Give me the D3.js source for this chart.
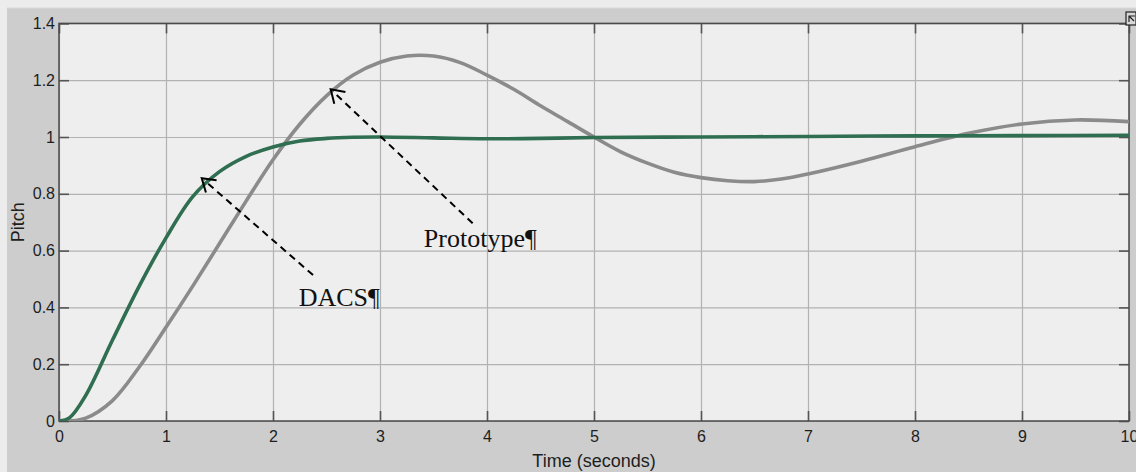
<!DOCTYPE html>
<html>
<head>
<meta charset="utf-8">
<script src="https://cdn.jsdelivr.net/npm/d3@7"></script>
<style>
  html, body { margin: 0; padding: 0; background: #cdcdcd; }
  svg { display: block; }
</style>
</head>
<body>
<div id="chart"></div>
<script>
// Pitch step response: prototype vs DACS

const timeProto = [0, 0.1, 0.25, 0.5, 0.75, 1, 1.25, 1.5, 1.75, 2, 2.25, 2.5, 2.75, 3, 3.25, 3.5, 3.75, 4, 4.25, 4.5, 4.75, 5, 5.25, 5.5, 5.75, 6, 6.25, 6.5, 6.75, 7, 7.5, 8, 8.5, 9, 9.5, 10];
const pitchProto = [0, 0, 0.01, 0.072, 0.19, 0.33, 0.475, 0.625, 0.775, 0.92, 1.045, 1.145, 1.218, 1.263, 1.285, 1.285, 1.262, 1.218, 1.168, 1.11, 1.055, 1.0, 0.948, 0.908, 0.876, 0.857, 0.846, 0.843, 0.852, 0.870, 0.915, 0.966, 1.013, 1.046, 1.06, 1.054];

const timeDacs = [0, 0.1, 0.25, 0.5, 0.75, 1, 1.25, 1.5, 1.75, 2, 2.25, 2.5, 2.75, 3, 3.5, 4, 4.5, 5, 6, 7, 8, 9, 10];
const pitchDacs = [0, 0.012, 0.09, 0.285, 0.475, 0.645, 0.79, 0.878, 0.932, 0.965, 0.986, 0.995, 0.999, 1.0, 0.997, 0.994, 0.995, 0.998, 1.0, 1.002, 1.004, 1.005, 1.006];

const xTicks = [0, 1, 2, 3, 4, 5, 6, 7, 8, 9, 10];
const xTickLabels = ["0", "1", "2", "3", "4", "5", "6", "7", "8", "9", "10"];
const yTicks = [0, 0.2, 0.4, 0.6, 0.8, 1, 1.2, 1.4];
const yTickLabels = ["0", "0.2", "0.4", "0.6", "0.8", "1", "1.2", "1.4"];

// annotations: label, arrow tip [t, pitch], arrow tail [t, pitch], text start [t, pitch]
const notes = [
  { label: "DACS\u00b6", tip: [1.334, 0.855], tail: [2.374, 0.514], text: [2.24, 0.405] },
  { label: "Prototype\u00b6", tip: [2.539, 1.168], tail: [3.866, 0.696], text: [3.41, 0.614] }
];

const width = 1136,
  height = 472,
  plotLeft = 59,
  plotRight = 1129,
  plotTop = 23.4,
  plotBottom = 421,
  green = "#2f6e50",
  gray = "#8b8b8b";

const x = d3.scaleLinear().domain([0, 10]).range([plotLeft, plotRight]);
const y = d3.scaleLinear().domain([0, 1.4]).range([plotBottom, plotTop]);

const svg = d3.select("#chart")
  .append("svg")
  .attr("width", width)
  .attr("height", height);

// window background
svg.append("rect").attr("width", width).attr("height", height).attr("fill", "#ececec");
svg.append("rect").attr("x", 7).attr("y", 8).attr("width", width - 7).attr("height", height - 8).attr("fill", "#cdcdcd");
svg.append("line").attr("x1", 7).attr("x2", width).attr("y1", 8).attr("y2", 8).attr("stroke", "#d9d9d9");

// plot area
svg.append("rect")
  .attr("x", plotLeft).attr("y", plotTop)
  .attr("width", plotRight - plotLeft).attr("height", plotBottom - plotTop)
  .attr("fill", "#eeeeee");

// grid
svg.append("g")
  .attr("transform", `translate(0,${plotBottom})`)
  .call(d3.axisBottom(x).tickValues(xTicks).tickSize(-(plotBottom - plotTop)).tickFormat(""))
  .call(g => g.select(".domain").remove())
  .call(g => g.selectAll("line").attr("stroke", "#b2b2b2").attr("stroke-width", 1.2));

svg.append("g")
  .attr("transform", `translate(${plotLeft},0)`)
  .call(d3.axisLeft(y).tickValues(yTicks).tickSize(-(plotRight - plotLeft)).tickFormat(""))
  .call(g => g.select(".domain").remove())
  .call(g => g.selectAll("line").attr("stroke", "#b2b2b2").attr("stroke-width", 1.2));

// inner tick marks + labels
const styleAxis = g => {
  g.select(".domain").remove();
  g.selectAll("line").attr("stroke", "#555").attr("stroke-width", 1.6);
  g.selectAll("text")
    .attr("fill", "#1e1e1e")
    .attr("font-family", "'Liberation Sans', Arial, sans-serif")
    .attr("font-size", 16);
};

svg.append("g")
  .attr("transform", `translate(0,${plotBottom})`)
  .call(d3.axisBottom(x).tickValues(xTicks).tickSize(-10).tickPadding(10)
    .tickFormat((d, i) => xTickLabels[i]))
  .call(styleAxis);

svg.append("g")
  .attr("transform", `translate(0,${plotTop})`)
  .call(d3.axisTop(x).tickValues(xTicks).tickSize(-10).tickFormat(""))
  .call(styleAxis);

svg.append("g")
  .attr("transform", `translate(${plotLeft},0)`)
  .call(d3.axisLeft(y).tickValues(yTicks).tickSize(-10).tickPadding(4)
    .tickFormat((d, i) => yTickLabels[i]))
  .call(styleAxis);

svg.append("g")
  .attr("transform", `translate(${plotRight},0)`)
  .call(d3.axisRight(y).tickValues(yTicks).tickSize(-10).tickFormat(""))
  .call(styleAxis);

// frame
svg.append("rect")
  .attr("x", plotLeft).attr("y", plotTop)
  .attr("width", plotRight - plotLeft).attr("height", plotBottom - plotTop)
  .attr("fill", "none")
  .attr("stroke", "#4a4a4a")
  .attr("stroke-width", 1.5);

// curves
svg.append("clipPath").attr("id", "clip")
  .append("rect")
  .attr("x", plotLeft).attr("y", plotTop)
  .attr("width", plotRight - plotLeft).attr("height", plotBottom - plotTop);

const line = d3.line()
  .x(d => x(d[0]))
  .y(d => y(d[1]))
  .curve(d3.curveCatmullRom.alpha(0.5));

const curves = svg.append("g").attr("clip-path", "url(#clip)");

curves.append("path")
  .datum(d3.zip(timeProto, pitchProto))
  .attr("fill", "none")
  .attr("stroke", gray)
  .attr("stroke-width", 3.6)
  .attr("d", line);

curves.append("path")
  .datum(d3.zip(timeDacs, pitchDacs))
  .attr("fill", "none")
  .attr("stroke", green)
  .attr("stroke-width", 3.6)
  .attr("d", line);

// annotations
const ann = svg.append("g");
for (let n of notes) {
  const tx = x(n.tip[0]), ty = y(n.tip[1]),
    sx = x(n.tail[0]), sy = y(n.tail[1]);
  const ang = Math.atan2(sy - ty, sx - tx),
    len = 15,
    spread = Math.PI / 5.5;

  ann.append("line")
    .attr("x1", sx).attr("y1", sy)
    .attr("x2", tx + 3 * Math.cos(ang)).attr("y2", ty + 3 * Math.sin(ang))
    .attr("stroke", "#000")
    .attr("stroke-width", 2)
    .attr("stroke-dasharray", "7,5");

  ann.append("path")
    .attr("d", `M${tx + len * Math.cos(ang - spread)},${ty + len * Math.sin(ang - spread)}L${tx},${ty}L${tx + len * Math.cos(ang + spread)},${ty + len * Math.sin(ang + spread)}`)
    .attr("fill", "none")
    .attr("stroke", "#000")
    .attr("stroke-width", 2);

  ann.append("text")
    .attr("x", x(n.text[0]))
    .attr("y", y(n.text[1]))
    .attr("font-family", "'Liberation Serif', 'Times New Roman', serif")
    .attr("font-size", 26)
    .attr("fill", "#111")
    .text(n.label);
}

// axis titles
svg.append("text")
  .attr("x", (plotLeft + plotRight) / 2)
  .attr("y", 467)
  .attr("text-anchor", "middle")
  .attr("font-family", "'Liberation Sans', Arial, sans-serif")
  .attr("font-size", 18)
  .attr("fill", "#1e1e1e")
  .text("Time (seconds)");

svg.append("text")
  .attr("transform", `translate(24,${(plotTop + plotBottom) / 2}) rotate(-90)`)
  .attr("text-anchor", "middle")
  .attr("font-family", "'Liberation Sans', Arial, sans-serif")
  .attr("font-size", 18)
  .attr("fill", "#1e1e1e")
  .text("Pitch");

// little dock icon at top right
svg.append("rect")
  .attr("x", 1126).attr("y", 12).attr("width", 10).attr("height", 13)
  .attr("fill", "#d8d8d8").attr("stroke", "#222").attr("stroke-width", 1.2);
svg.append("path")
  .attr("d", "M1129,22L1129,16L1135,16M1129,16L1134,21")
  .attr("fill", "none").attr("stroke", "#222").attr("stroke-width", 1.2);
</script>
</body>
</html>
